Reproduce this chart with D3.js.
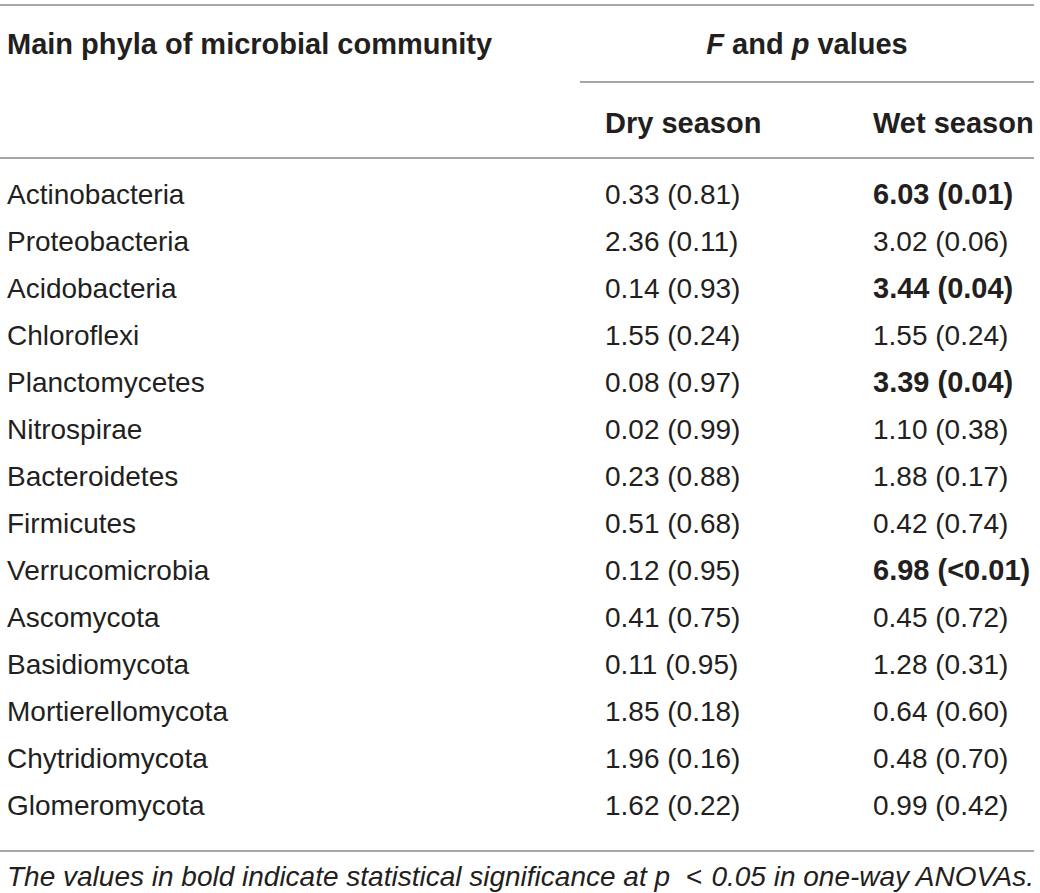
<!DOCTYPE html>
<html>
<head>
<meta charset="utf-8">
<script src="https://cdn.jsdelivr.net/npm/d3@7"></script>
<style>
  body { margin: 0; background: #fff; }
  text { font-family: "Liberation Sans", Arial, sans-serif; fill: #231f20; }
</style>
</head>
<body>
<div id="table"></div>
<script>
// table contents
var phyla = ["Actinobacteria", "Proteobacteria", "Acidobacteria", "Chloroflexi",
  "Planctomycetes", "Nitrospirae", "Bacteroidetes", "Firmicutes", "Verrucomicrobia",
  "Ascomycota", "Basidiomycota", "Mortierellomycota", "Chytridiomycota", "Glomeromycota"];

var dryValues = ["0.33 (0.81)", "2.36 (0.11)", "0.14 (0.93)", "1.55 (0.24)", "0.08 (0.97)",
  "0.02 (0.99)", "0.23 (0.88)", "0.51 (0.68)", "0.12 (0.95)", "0.41 (0.75)",
  "0.11 (0.95)", "1.85 (0.18)", "1.96 (0.16)", "1.62 (0.22)"];

var wetValues = ["6.03 (0.01)", "3.02 (0.06)", "3.44 (0.04)", "1.55 (0.24)", "3.39 (0.04)",
  "1.10 (0.38)", "1.88 (0.17)", "0.42 (0.74)", "6.98 (<0.01)", "0.45 (0.72)",
  "1.28 (0.31)", "0.64 (0.60)", "0.48 (0.70)", "0.99 (0.42)"];

// significant at p < 0.05 (bold)
var wetSignificant = [true, false, true, false, true, false, false, false, true,
  false, false, false, false, false];

var columns = ["phylum", "dry", "wet"];
var seasonLabels = ["Dry season", "Wet season"];

var width = 1040, height = 893;

var svg = d3.select("#table")
  .append("svg")
    .attr("width", width)
    .attr("height", height);

// column positions
var x = d3.scaleOrdinal()
  .domain(columns)
  .range([7, 605, 873]);

// row positions
var y = d3.scaleBand()
  .domain(phyla)
  .range([170, 828]);

var lineColor = "#8a8a8a";
function hline(x1, x2, yy) {
  svg.append("line")
    .attr("x1", x1).attr("x2", x2)
    .attr("y1", yy).attr("y2", yy)
    .attr("stroke", lineColor)
    .attr("stroke-width", 1.3);
}

hline(0, 1034, 5);
hline(580, 1034, 82);
hline(0, 1034, 158);
hline(0, 1034, 851);

// header
svg.append("text")
  .attr("x", x("phylum"))
  .attr("y", 54)
  .style("font-size", "29px")
  .style("font-weight", "bold")
  .text("Main phyla of microbial community");

var fp = svg.append("text")
  .attr("x", 807)
  .attr("y", 54)
  .attr("text-anchor", "middle")
  .style("font-size", "29px")
  .style("font-weight", "bold");
fp.append("tspan").style("font-style", "italic").text("F");
fp.append("tspan").text(" and ");
fp.append("tspan").style("font-style", "italic").text("p");
fp.append("tspan").text(" values");

svg.selectAll(".season")
  .data(seasonLabels)
  .enter()
  .append("text")
    .attr("class", "season")
    .attr("x", function(d, i) { return x(columns[i + 1]); })
    .attr("y", 133)
    .style("font-size", "29px")
    .style("font-weight", "bold")
    .text(function(d) { return d; });

// body rows
var rows = svg.selectAll(".row")
  .data(phyla)
  .enter()
  .append("g")
    .attr("class", "row")
    .attr("transform", function(d) { return "translate(0," + (y(d) + y.bandwidth() / 2 + 10) + ")"; });

rows.append("text")
  .attr("x", x("phylum"))
  .style("font-size", "28px")
  .style("font-weight", 300)
  .text(function(d) { return d; });

rows.append("text")
  .attr("x", x("dry"))
  .style("font-size", "28px")
  .style("font-weight", 300)
  .text(function(d, i) { return dryValues[i]; });

rows.append("text")
  .attr("x", x("wet"))
  .style("font-size", function(d, i) { return wetSignificant[i] ? "29px" : "28px"; })
  .style("font-weight", function(d, i) { return wetSignificant[i] ? "bold" : 300; })
  .text(function(d, i) { return wetValues[i]; });

// footnote
var note = svg.append("text")
  .attr("x", 7)
  .attr("y", 886)
  .style("font-size", "28px")
  .style("font-style", "italic");
note.append("tspan").text("The values in bold indicate statistical significance at p");
note.append("tspan").attr("dx", 16).style("font-style", "normal").text("<");
note.append("tspan").attr("dx", 9).text("0.05 in one-way ANOVAs.");
</script>
</body>
</html>
